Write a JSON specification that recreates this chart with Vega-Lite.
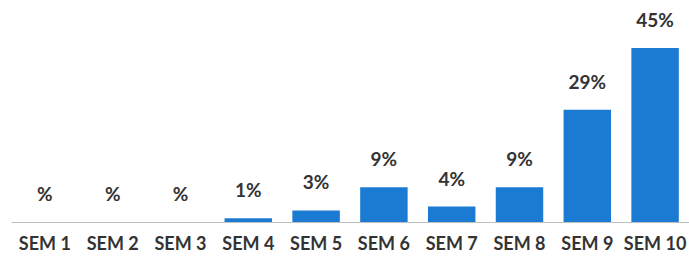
{
  "$schema": "https://vega.github.io/schema/vega-lite/v6.json",
  "autosize": "none",
  "width": 678,
  "height": 174,
  "padding": {"left": 11, "top": 48, "right": 0, "bottom": 36},
  "background": "white",
  "data": {"values": [
    {"sem": "SEM 1", "value": 0, "label": "%"},
    {"sem": "SEM 2", "value": 0, "label": "%"},
    {"sem": "SEM 3", "value": 0, "label": "%"},
    {"sem": "SEM 4", "value": 1, "label": "1%"},
    {"sem": "SEM 5", "value": 3, "label": "3%"},
    {"sem": "SEM 6", "value": 9, "label": "9%"},
    {"sem": "SEM 7", "value": 4, "label": "4%"},
    {"sem": "SEM 8", "value": 9, "label": "9%"},
    {"sem": "SEM 9", "value": 29, "label": "29%"},
    {"sem": "SEM 10", "value": 45, "label": "45%"}
  ]},
  "encoding": {
    "x": {"field": "sem", "type": "nominal", "sort": null,
      "scale": {"paddingInner": 0.3, "paddingOuter": 0.15},
      "axis": {"title": null, "labelAngle": 0, "domainColor": "#bfbfbf", "domainWidth": 1.2, "ticks": false,
        "labelFont": "Lato", "labelFontSize": 18, "labelFontWeight": "bold", "labelColor": "#333333", "labelPadding": 13}},
    "y": {"field": "value", "type": "quantitative", "scale": {"domain": [0, 45], "nice": false}, "axis": null}
  },
  "layer": [
    {"mark": {"type": "bar", "color": "#1b7bd3"}},
    {"mark": {"type": "text", "baseline": "middle", "dy": -27, "font": "Lato", "fontSize": 19, "fontWeight": "bold", "color": "#333333"},
     "encoding": {"text": {"field": "label"}}}
  ],
  "config": {"view": {"stroke": null}}
}
